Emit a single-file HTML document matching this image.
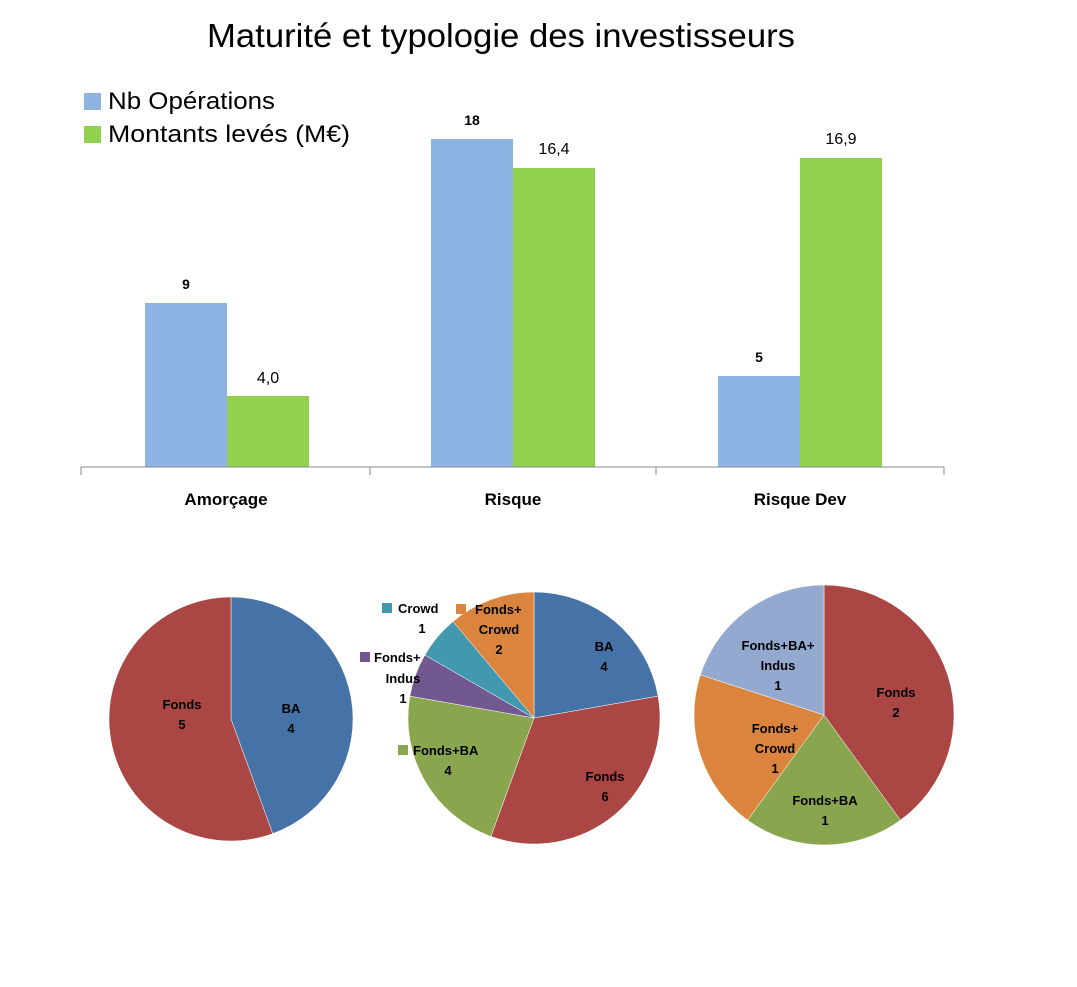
<!DOCTYPE html>
<html><head><meta charset="utf-8"><style>
body{margin:0;background:#fff}
svg{display:block;font-family:"Liberation Sans","DejaVu Sans",sans-serif}
.b{font-weight:bold;font-size:14px;fill:#000}
.p{font-weight:bold;font-size:13px;fill:#000}
</style></head><body>
<svg id="s" width="1077" height="987" viewBox="0 0 1077 987">
<rect width="1077" height="987" fill="#fff"/>
<text x="501" y="47" font-size="33" text-anchor="middle" fill="#000" textLength="588" lengthAdjust="spacingAndGlyphs">Maturité et typologie des investisseurs</text>
<rect x="84" y="93" width="17" height="17" fill="#8db3e2"/>
<text x="108" y="109" font-size="24" fill="#000" textLength="167" lengthAdjust="spacingAndGlyphs">Nb Opérations</text>
<rect x="84" y="126" width="17" height="17" fill="#92d050"/>
<text x="108" y="142" font-size="24" fill="#000" textLength="242" lengthAdjust="spacingAndGlyphs">Montants levés (M€)</text>
<rect x="145" y="303" width="82" height="164" fill="#8db3e2"/>
<rect x="227" y="396" width="82" height="71" fill="#92d050"/>
<rect x="431" y="139" width="82" height="328" fill="#8db3e2"/>
<rect x="513" y="168" width="82" height="299" fill="#92d050"/>
<rect x="718" y="376" width="82" height="91" fill="#8db3e2"/>
<rect x="800" y="158" width="82" height="309" fill="#92d050"/>
<text x="186" y="289" class="b" text-anchor="middle">9</text>
<text x="268" y="383" font-size="16" text-anchor="middle">4,0</text>
<text x="472" y="125" class="b" text-anchor="middle">18</text>
<text x="554" y="154" font-size="16" text-anchor="middle">16,4</text>
<text x="759" y="362" class="b" text-anchor="middle">5</text>
<text x="841" y="144" font-size="16" text-anchor="middle">16,9</text>
<path d="M81 467H944M81 467v8M370 467v8M656 467v8M944 467v8" stroke="#888" stroke-width="1" fill="none"/>
<text x="226" y="505" font-size="17" font-weight="bold" text-anchor="middle">Amorçage</text>
<text x="513" y="505" font-size="17" font-weight="bold" text-anchor="middle">Risque</text>
<text x="800" y="505" font-size="17" font-weight="bold" text-anchor="middle">Risque Dev</text>
<g id="pies"></g>
<g>
<text x="291" y="713" class="p" text-anchor="middle">BA</text>
<text x="291" y="733" class="p" text-anchor="middle">4</text>
<text x="182" y="709" class="p" text-anchor="middle">Fonds</text>
<text x="182" y="729" class="p" text-anchor="middle">5</text>

<text x="604" y="651" class="p" text-anchor="middle">BA</text>
<text x="604" y="671" class="p" text-anchor="middle">4</text>
<text x="605" y="781" class="p" text-anchor="middle">Fonds</text>
<text x="605" y="801" class="p" text-anchor="middle">6</text>
<rect x="398" y="745" width="10" height="10" fill="#8aa64e"/>
<text x="413" y="755" class="p">Fonds+BA</text>
<text x="448" y="775" class="p" text-anchor="middle">4</text>
<rect x="360" y="652" width="10" height="10" fill="#73578f"/>
<text x="374" y="662" class="p">Fonds+</text>
<text x="403" y="683" class="p" text-anchor="middle">Indus</text>
<text x="403" y="703" class="p" text-anchor="middle">1</text>
<rect x="382" y="603" width="10" height="10" fill="#4198af"/>
<text x="398" y="613" class="p">Crowd</text>
<text x="422" y="633" class="p" text-anchor="middle">1</text>
<rect x="456" y="604" width="10" height="10" fill="#db843d"/>
<text x="475" y="614" class="p">Fonds+</text>
<text x="499" y="634" class="p" text-anchor="middle">Crowd</text>
<text x="499" y="654" class="p" text-anchor="middle">2</text>

<text x="896" y="697" class="p" text-anchor="middle">Fonds</text>
<text x="896" y="717" class="p" text-anchor="middle">2</text>
<text x="825" y="805" class="p" text-anchor="middle">Fonds+BA</text>
<text x="825" y="825" class="p" text-anchor="middle">1</text>
<text x="775" y="733" class="p" text-anchor="middle">Fonds+</text>
<text x="775" y="753" class="p" text-anchor="middle">Crowd</text>
<text x="775" y="773" class="p" text-anchor="middle">1</text>
<text x="778" y="650" class="p" text-anchor="middle">Fonds+BA+</text>
<text x="778" y="670" class="p" text-anchor="middle">Indus</text>
<text x="778" y="690" class="p" text-anchor="middle">1</text>
</g>
</svg>
<script>
var g=document.getElementById('pies');
function pie(cx,cy,r,vals,cols){var t=vals.reduce(function(a,b){return a+b},0),a=0;
for(var i=0;i<vals.length;i++){var a2=a+vals[i]/t*2*Math.PI;
var x1=cx+r*Math.sin(a),y1=cy-r*Math.cos(a),x2=cx+r*Math.sin(a2),y2=cy-r*Math.cos(a2);
var p=document.createElementNS('http://www.w3.org/2000/svg','path');
p.setAttribute('d','M'+cx+' '+cy+'L'+x1+' '+y1+'A'+r+' '+r+' 0 '+((a2-a)>Math.PI?1:0)+' 1 '+x2+' '+y2+'Z');
p.setAttribute('fill',cols[i]);p.setAttribute('stroke','#fff');p.setAttribute('stroke-width','0.5');g.appendChild(p);a=a2;}}
pie(231,719,122,[4,5],['#4572a7','#aa4643']);
pie(534,718,126,[4,6,4,1,1,2],['#4572a7','#aa4643','#89a54e','#71588f','#4198af','#db843d']);
pie(824,715,130,[2,1,1,1],['#aa4643','#89a54e','#db843d','#93a9cf']);
</script>
</body></html>
